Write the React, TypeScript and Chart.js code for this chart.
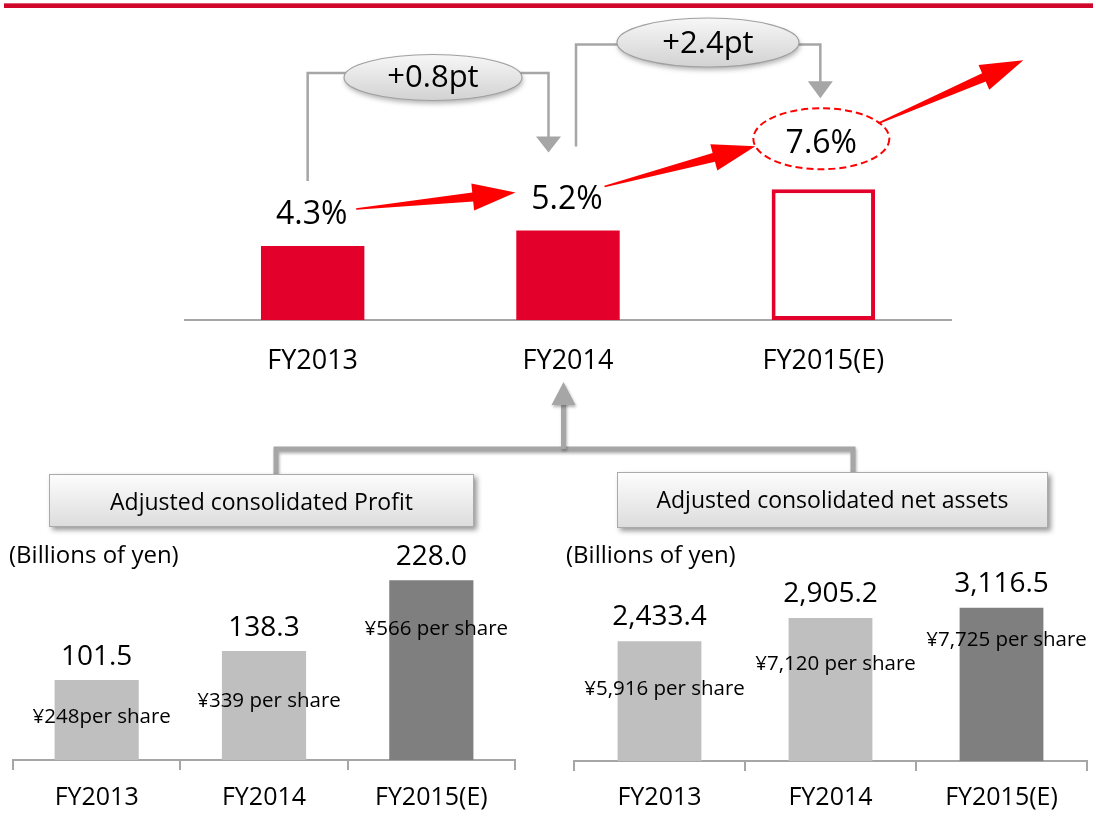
import React, { useEffect, useRef } from 'react';
import { Chart, registerables } from 'chart.js';

Chart.register(...registerables);

// ---------------- data ----------------
const topCategories = ['FY2013', 'FY2014', 'FY2015(E)'];
const roeValues = [4.3, 5.2, 7.6];
const roeLabels = ['4.3%', '5.2%', '7.6%'];
const roeChanges = ['+0.8pt', '+2.4pt'];

const bottomCategories = ['FY2013', 'FY2014', 'FY2015(E)'];
const profitValues = [101.5, 138.3, 228.0];
const profitPerShare = ['¥248per share', '¥339 per share', '¥566 per share'];
const netAssetValues = [2433.4, 2905.2, 3116.5];
const netAssetPerShare = ['¥5,916 per share', '¥7,120 per share', '¥7,725 per share'];

const profitTitle = 'Adjusted consolidated Profit';
const netAssetTitle = 'Adjusted consolidated net assets';
const unitLabel = '(Billions of yen)';

// ---------------- styles ----------------
const FAMILY = "'Open Sans', sans-serif";
const f = (size: number) => `${size}px ${FAMILY}`;
const RED = '#e3002b';
const ARROW_RED = '#ff0000';
const GRAY_LINE = '#a6a6a6';
const LIGHT_BAR = '#bfbfbf';
const DARK_BAR = '#7f7f7f';

const fmt = new Intl.NumberFormat('en-US', { minimumFractionDigits: 1, maximumFractionDigits: 1 });

function taperArrow(ctx: CanvasRenderingContext2D, x0: number, y0: number, x1: number, y1: number) {
  const dx = x1 - x0, dy = y1 - y0;
  const len = Math.hypot(dx, dy);
  const ux = dx / len, uy = dy / len;
  const nx = -uy, ny = ux;
  const headLen = 43, headHalf = 13.5, shaftHalf = 4.5, tailHalf = 0.8;
  const bx = x1 - ux * headLen, by = y1 - uy * headLen;
  ctx.save();
  ctx.fillStyle = ARROW_RED;
  ctx.beginPath();
  ctx.moveTo(x0 + nx * tailHalf, y0 + ny * tailHalf);
  ctx.lineTo(bx + nx * shaftHalf, by + ny * shaftHalf);
  ctx.lineTo(bx + nx * headHalf, by + ny * headHalf);
  ctx.lineTo(x1, y1);
  ctx.lineTo(bx - nx * headHalf, by - ny * headHalf);
  ctx.lineTo(bx - nx * shaftHalf, by - ny * shaftHalf);
  ctx.lineTo(x0 - nx * tailHalf, y0 - ny * tailHalf);
  ctx.closePath();
  ctx.fill();
  ctx.restore();
}

function grayDownArrowHead(ctx: CanvasRenderingContext2D, x: number, yTop: number, yTip: number, half: number) {
  ctx.beginPath();
  ctx.moveTo(x - half, yTop);
  ctx.lineTo(x + half, yTop);
  ctx.lineTo(x, yTip);
  ctx.closePath();
  ctx.fill();
}

function callout(ctx: CanvasRenderingContext2D, cx: number, cy: number, rx: number, ry: number, text: string, baseline: number) {
  ctx.save();
  ctx.shadowColor = 'rgba(0,0,0,0.3)';
  ctx.shadowBlur = 5;
  ctx.shadowOffsetX = 1;
  ctx.shadowOffsetY = 3;
  const g = ctx.createLinearGradient(0, cy - ry, 0, cy + ry);
  g.addColorStop(0, '#f7f7f7');
  g.addColorStop(1, '#d2d2d2');
  ctx.fillStyle = g;
  ctx.beginPath();
  ctx.ellipse(cx, cy, rx, ry, 0, 0, Math.PI * 2);
  ctx.fill();
  ctx.restore();
  ctx.save();
  ctx.strokeStyle = '#a0a0a0';
  ctx.lineWidth = 1.2;
  ctx.beginPath();
  ctx.ellipse(cx, cy, rx, ry, 0, 0, Math.PI * 2);
  ctx.stroke();
  ctx.fillStyle = '#000';
  ctx.font = f(31);
  ctx.textAlign = 'center';
  ctx.textBaseline = 'alphabetic';
  ctx.fillText(text, cx, baseline);
  ctx.restore();
}

function box(ctx: CanvasRenderingContext2D, x: number, y: number, w: number, h: number, text: string, baseline: number) {
  ctx.save();
  ctx.shadowColor = 'rgba(0,0,0,0.4)';
  ctx.shadowBlur = 5;
  ctx.shadowOffsetX = 3;
  ctx.shadowOffsetY = 3;
  const g = ctx.createLinearGradient(0, y, 0, y + h);
  g.addColorStop(0, '#fdfdfd');
  g.addColorStop(1, '#dcdcdc');
  ctx.fillStyle = g;
  ctx.fillRect(x, y, w, h);
  ctx.restore();
  ctx.save();
  ctx.strokeStyle = '#aaaaaa';
  ctx.lineWidth = 1;
  ctx.strokeRect(x + 0.5, y + 0.5, w - 1, h - 1);
  ctx.fillStyle = '#000';
  ctx.font = f(23);
  ctx.textAlign = 'center';
  ctx.textBaseline = 'alphabetic';
  ctx.fillText(text, x + w / 2, baseline);
  ctx.restore();
}

// labels above the ROE bars
const topLabelPlugin = {
  id: 'topLabels',
  afterDatasetsDraw(chart: any) {
    const ctx = chart.ctx as CanvasRenderingContext2D;
    const els = chart.getDatasetMeta(0).data;
    const last = els.length - 1;
    els.forEach((el: any, i: number) => {
      ctx.save();
      ctx.font = f(32);
      ctx.fillStyle = '#000';
      ctx.textAlign = 'center';
      ctx.textBaseline = 'alphabetic';
      if (i === last) {
        const cx = el.x - 2, cy = el.y - 50.5;
        ctx.strokeStyle = ARROW_RED;
        ctx.lineWidth = 2;
        ctx.setLineDash([7, 4]);
        ctx.beginPath();
        ctx.ellipse(cx, cy, 68, 30.5, 0, 0, Math.PI * 2);
        ctx.stroke();
        ctx.setLineDash([]);
        ctx.fillText(roeLabels[i], cx, el.y - 36);
      } else {
        ctx.fillText(roeLabels[i], el.x - 1, el.y - 22);
      }
      ctx.restore();
    });
  },
};

// all connectors, callouts and boxes
const decorPlugin = {
  id: 'decor',
  afterDraw(chart: any) {
    const ctx = chart.ctx as CanvasRenderingContext2D;
    const [b1, b2, b3] = chart.getDatasetMeta(0).data as any[];

    // top red rule
    ctx.save();
    ctx.fillStyle = '#d0062a';
    ctx.fillRect(4, 3, 1089, 5);
    ctx.fillStyle = 'rgba(255,255,255,0.35)';
    ctx.fillRect(4, 3, 1089, 1);
    ctx.restore();

    // gray brackets
    const ellA = { cx: 433, cy: 77.5, rx: 89, ry: 23, lineY: 73 };
    const ellB = { cx: 708, cy: 42.5, rx: 91, ry: 24.5, lineY: 44.5 };
    ctx.save();
    ctx.strokeStyle = GRAY_LINE;
    ctx.fillStyle = GRAY_LINE;
    ctx.lineWidth = 2.5;
    const aLeft = b1.x - 5, aRight = b2.x - 19.5;
    ctx.beginPath();
    ctx.moveTo(aLeft, b1.y - 65);
    ctx.lineTo(aLeft, ellA.lineY);
    ctx.lineTo(ellA.cx - ellA.rx + 2, ellA.lineY);
    ctx.moveTo(ellA.cx + ellA.rx - 2, ellA.lineY);
    ctx.lineTo(aRight, ellA.lineY);
    ctx.lineTo(aRight, b2.y - 93);
    ctx.stroke();
    grayDownArrowHead(ctx, aRight, b2.y - 94, b2.y - 78, 12.5);

    const bLeft = b2.x + 8, bRight = b3.x - 3;
    ctx.beginPath();
    ctx.moveTo(bLeft, b2.y - 84);
    ctx.lineTo(bLeft, ellB.lineY);
    ctx.lineTo(ellB.cx - ellB.rx + 2, ellB.lineY);
    ctx.moveTo(ellB.cx + ellB.rx - 2, ellB.lineY);
    ctx.lineTo(bRight, ellB.lineY);
    ctx.lineTo(bRight, b3.y - 107);
    ctx.stroke();
    grayDownArrowHead(ctx, bRight, b3.y - 108, b3.y - 91, 12.5);
    ctx.restore();

    callout(ctx, ellA.cx, ellA.cy, ellA.rx, ellA.ry, roeChanges[0], 87);
    callout(ctx, ellB.cx, ellB.cy, ellB.rx, ellB.ry, roeChanges[1], 53);

    // red growth arrows
    taperArrow(ctx, b1.x + 43.5, b1.y - 37, b2.x - 52.5, b2.y - 38);
    taperArrow(ctx, b2.x + 36.5, b2.y - 44, b3.x - 68, b3.y - 43);
    taperArrow(ctx, b3.x + 55, b3.y - 66, b3.x + 200, b3.y - 129);

    // bottom connector to FY2014
    ctx.save();
    ctx.shadowColor = 'rgba(0,0,0,0.3)';
    ctx.shadowBlur = 3;
    ctx.shadowOffsetX = 1;
    ctx.shadowOffsetY = 2;
    ctx.strokeStyle = GRAY_LINE;
    ctx.fillStyle = GRAY_LINE;
    ctx.lineWidth = 5;
    ctx.lineJoin = 'miter';
    const upX = b2.x - 4.5;
    ctx.beginPath();
    ctx.moveTo(276, 474);
    ctx.lineTo(276, 449);
    ctx.lineTo(853, 449);
    ctx.lineTo(853, 472);
    ctx.stroke();
    ctx.beginPath();
    ctx.moveTo(upX, 449);
    ctx.lineTo(upX, 402);
    ctx.stroke();
    ctx.beginPath();
    ctx.moveTo(upX - 12, 405);
    ctx.lineTo(upX + 12, 405);
    ctx.lineTo(upX, 382);
    ctx.closePath();
    ctx.fill();
    ctx.restore();

    box(ctx, 49, 474, 425, 53, profitTitle, 510);
    box(ctx, 617, 472, 431, 56, netAssetTitle, 508);

    ctx.save();
    ctx.fillStyle = '#000';
    ctx.font = f(24);
    ctx.textAlign = 'left';
    ctx.textBaseline = 'alphabetic';
    ctx.fillText(unitLabel, 9, 563);
    ctx.fillText(unitLabel, 566, 563);
    ctx.restore();
  },
};

function makeBarLabels(perShare: string[], valueGap: number, perShareDy: number[]) {
  return {
    id: 'barLabels',
    afterDatasetsDraw(chart: any) {
      const ctx = chart.ctx as CanvasRenderingContext2D;
      const ds = chart.data.datasets[0];
      chart.getDatasetMeta(0).data.forEach((el: any, i: number) => {
        ctx.save();
        ctx.fillStyle = '#000';
        ctx.textAlign = 'center';
        ctx.textBaseline = 'alphabetic';
        ctx.font = f(28);
        ctx.fillText(fmt.format(ds.data[i]), el.x, el.y - valueGap);
        ctx.font = f(20.5);
        ctx.fillText(perShare[i], el.x + 5, el.y + perShareDy[i]);
        ctx.restore();
      });
    },
  };
}

function bottomChart(
  canvas: HTMLCanvasElement,
  values: number[],
  perShare: string[],
  cfg: { padLeft: number; padRight: number; padTop: number; axisY: number; max: number; tickPadding: number; barPct: number; valueGap: number; perShareDy: number[] }
) {
  const H = 291;
  return new Chart(canvas, {
    type: 'bar',
    data: {
      labels: bottomCategories,
      datasets: [
        {
          data: values,
          backgroundColor: [LIGHT_BAR, LIGHT_BAR, DARK_BAR],
          borderWidth: 0,
          barPercentage: cfg.barPct,
          categoryPercentage: 1,
        },
      ],
    },
    options: {
      responsive: false,
      animation: false,
      devicePixelRatio: 1,
      layout: { padding: { left: cfg.padLeft, right: cfg.padRight, top: cfg.padTop, bottom: 0 } },
      plugins: { legend: { display: false }, tooltip: { enabled: false }, title: { display: false } },
      scales: {
        x: {
          grid: { display: true, drawOnChartArea: false, drawTicks: true, tickLength: 10, color: GRAY_LINE, lineWidth: 2 },
          border: { display: true, color: GRAY_LINE, width: 2 },
          ticks: { font: { family: FAMILY, size: 25 }, color: '#000', padding: cfg.tickPadding, maxRotation: 0 },
          afterFit: (s: any) => {
            s.height = H - cfg.axisY;
          },
        },
        y: { display: false, min: 0, max: cfg.max },
      },
    } as any,
    plugins: [makeBarLabels(perShare, cfg.valueGap, cfg.perShareDy)],
  });
}

export default function App() {
  const topRef = useRef<HTMLCanvasElement>(null);
  const leftRef = useRef<HTMLCanvasElement>(null);
  const rightRef = useRef<HTMLCanvasElement>(null);

  useEffect(() => {
    const top = new Chart(topRef.current!, {
      type: 'bar',
      data: {
        labels: topCategories,
        datasets: [
          {
            data: roeValues,
            backgroundColor: [RED, RED, '#ffffff'],
            borderColor: RED,
            borderWidth: [0, 0, 4],
            borderSkipped: false,
            barPercentage: 0.405,
            categoryPercentage: 1,
          },
        ],
      },
      options: {
        responsive: false,
        animation: false,
        devicePixelRatio: 1,
        layout: { padding: { left: 185, right: 145, top: 148, bottom: 441 } },
        plugins: { legend: { display: false }, tooltip: { enabled: false } },
        scales: {
          x: {
            grid: { display: false, drawTicks: false },
            border: { display: true, color: GRAY_LINE, width: 2 },
            ticks: { font: { family: FAMILY, size: 27 }, color: '#000', padding: 25, maxRotation: 0 },
            afterFit: (s: any) => {
              s.height = 60;
            },
          },
          y: { display: false, min: 0, max: 10 },
        },
      } as any,
      plugins: [topLabelPlugin, decorPlugin],
    });

    const left = bottomChart(leftRef.current!, profitValues, profitPerShare, {
      padLeft: 13,
      padRight: 33,
      padTop: 33,
      axisY: 230,
      max: 250,
      tickPadding: 13,
      barPct: 0.503,
      valueGap: 15,
      perShareDy: [43, 56, 55],
    });

    const right = bottomChart(rightRef.current!, netAssetValues, netAssetPerShare, {
      padLeft: 26,
      padRight: 9,
      padTop: 58.8,
      axisY: 231,
      max: 3500,
      tickPadding: 12,
      barPct: 0.49,
      valueGap: 16,
      perShareDy: [54, 52, 38],
    });

    return () => {
      top.destroy();
      left.destroy();
      right.destroy();
    };
  }, []);

  return (
    <div style={{ position: 'absolute', left: 0, top: 0, width: 1096, height: 821, background: '#ffffff', overflow: 'hidden' }}>
      <canvas ref={topRef} width={1096} height={821} style={{ position: 'absolute', left: 0, top: 0, width: 1096, height: 821 }} />
      <canvas ref={leftRef} width={548} height={291} style={{ position: 'absolute', left: 0, top: 530, width: 548, height: 291 }} />
      <canvas ref={rightRef} width={548} height={291} style={{ position: 'absolute', left: 548, top: 530, width: 548, height: 291 }} />
    </div>
  );
}
